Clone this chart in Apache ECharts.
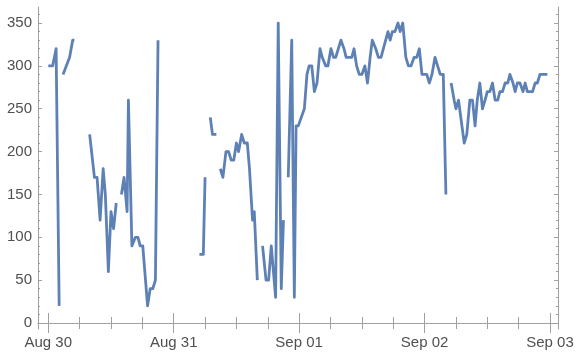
<!DOCTYPE html>
<html>
<head>
<meta charset="utf-8">
<style>
  html, body { margin: 0; padding: 0; background: #ffffff; }
  #chart { width: 587px; height: 357px; }
</style>
<script src="https://cdn.jsdelivr.net/npm/echarts@6/dist/echarts.min.js"></script>
</head>
<body>
<div id="chart"></div>
<script>
// Readings (month-day hour:minute); a null entry breaks the line.
const YEAR = 2016;
const times = [
  '08-30 00:00', '08-30 00:50', '08-30 01:30', '08-30 02:05', null,
  '08-30 02:50', '08-30 04:05', '08-30 04:40', '08-30 05:00', null,
  '08-30 07:55', '08-30 08:50', '08-30 09:20', '08-30 09:55', '08-30 10:30', '08-30 10:55',
  '08-30 11:30', '08-30 12:00', '08-30 12:30', '08-30 13:00', null,
  '08-30 14:00', '08-30 14:30', '08-30 15:05', '08-30 15:20', '08-30 16:00', '08-30 16:40',
  '08-30 17:10', '08-30 17:35', '08-30 18:05', '08-30 19:00', '08-30 19:30', '08-30 20:00',
  '08-30 20:30', '08-30 21:00', null,
  '08-31 04:55', '08-31 05:40', '08-31 06:00', null,
  '08-31 07:00', '08-31 07:25', '08-31 08:10', null,
  '08-31 08:55', '08-31 09:25', '08-31 10:00', '08-31 10:30', '08-31 11:00', '08-31 11:30',
  '08-31 12:00', '08-31 12:25', '08-31 13:00', '08-31 13:30', '08-31 14:05', '08-31 14:30',
  '08-31 15:05', '08-31 15:25', '08-31 16:00', null,
  '08-31 17:00', '08-31 17:40', '08-31 18:10', '08-31 18:40', '08-31 19:30', '08-31 20:00',
  '08-31 20:35', '08-31 21:00', null,
  '08-31 21:55', '08-31 22:35', '08-31 23:05', '08-31 23:25', '08-31 23:50', '09-01 01:00',
  '09-01 01:30', '09-01 01:55', '09-01 02:25', '09-01 02:55', '09-01 03:25', '09-01 04:00',
  '09-01 04:25', '09-01 05:05', '09-01 05:30', '09-01 06:05', '09-01 06:35', '09-01 07:00',
  '09-01 08:00', '09-01 08:35', '09-01 09:00', '09-01 09:30', '09-01 10:05', '09-01 10:30',
  '09-01 11:00', '09-01 11:30', '09-01 12:00', '09-01 12:35', '09-01 13:05', '09-01 13:35',
  '09-01 14:00', '09-01 14:40', '09-01 15:10', '09-01 15:40', '09-01 17:00', '09-01 17:25',
  '09-01 17:50', '09-01 18:20', '09-01 18:55', '09-01 19:20', '09-01 19:50', '09-01 20:25',
  '09-01 20:55', '09-01 21:25', '09-01 22:00', '09-01 22:30', '09-01 23:00', '09-01 23:30',
  '09-02 00:00', '09-02 00:25', '09-02 00:55', '09-02 01:25', '09-02 02:00', '09-02 02:30',
  '09-02 03:00', '09-02 03:35', '09-02 04:05', null,
  '09-02 05:05', '09-02 05:40', '09-02 06:00', '09-02 06:30', '09-02 07:35', '09-02 08:05',
  '09-02 08:40', '09-02 09:10', '09-02 09:40', '09-02 10:05', '09-02 10:35', '09-02 11:05',
  '09-02 11:35', '09-02 12:00', '09-02 12:30', '09-02 13:00', '09-02 13:30', '09-02 14:00',
  '09-02 14:25', '09-02 14:55', '09-02 15:25', '09-02 15:55', '09-02 16:20', '09-02 16:55',
  '09-02 17:20', '09-02 17:45', '09-02 18:15', '09-02 18:50', '09-02 19:15', '09-02 19:40',
  '09-02 20:10', '09-02 20:40', '09-02 21:10', '09-02 21:35', '09-02 22:05', '09-02 22:35',
  '09-02 23:30'
];
const values = [
  300, 300, 320, 20, null,
  290, 310, 330, 330, null,
  220, 170, 170, 120, 180, 150,
  60, 130, 110, 140, null,
  150, 170, 130, 260, 90, 100,
  100, 90, 90, 20, 40, 40,
  50, 330, null,
  80, 80, 170, null,
  240, 220, 220, null,
  180, 170, 200, 200, 190, 190,
  210, 200, 220, 210, 210, 180,
  120, 130, 50, null,
  90, 50, 50, 90, 30, 350,
  40, 120, null,
  170, 330, 30, 230, 230, 250,
  290, 300, 300, 270, 280, 320,
  310, 300, 300, 320, 310, 310,
  330, 320, 310, 310, 310, 320,
  300, 290, 290, 300, 280, 310,
  330, 320, 310, 310, 340, 330,
  340, 340, 350, 340, 350, 310,
  300, 300, 310, 310, 320, 290,
  290, 290, 280, 290, 310, 300,
  290, 290, 150, null,
  280, 260, 250, 260, 210, 220,
  260, 260, 230, 260, 280, 250,
  260, 270, 270, 280, 260, 260,
  270, 270, 280, 280, 290, 280,
  270, 280, 280, 270, 280, 270,
  270, 270, 280, 280, 290, 290,
  290
];
const dayTicks = ['08-30 00:00', '08-31 00:00', '09-01 00:00', '09-02 00:00', '09-03 00:00'];
const yTicks = [0, 50, 100, 150, 200, 250, 300, 350];
const MONTHS = ['Jan', 'Feb', 'Mar', 'Apr', 'May', 'Jun', 'Jul', 'Aug', 'Sep', 'Oct', 'Nov', 'Dec'];

function ts(s) {
  const m = s.match(/(\d+)-(\d+) (\d+):(\d+)/);
  return new Date(YEAR, +m[1] - 1, +m[2], +m[3], +m[4]).getTime();
}

const seriesData = times.map((t, i) =>
  (t === null || values[i] === null) ? ['-', '-'] : [ts(t), values[i]]
);

const HOUR = 3600 * 1000;
const dayVals = dayTicks.map(ts);
const quarterVals = [];
for (let t = dayVals[0] - 6 * HOUR; t <= dayVals[dayVals.length - 1]; t += 6 * HOUR) {
  if (dayVals.indexOf(t) < 0) quarterVals.push(t);
}
const yMinor = [];
for (let v = 0; v <= 360; v += 10) if (v % 50 !== 0) yMinor.push(v);

const xMin = ts('08-29 22:02');
const xMax = ts('09-03 01:32');
const yMin = -7, yMax = 368.7;

const FRAME = '#a0a0a0';
const LABEL = '#505050';
const FONT = 'Liberation Sans, Arial, sans-serif';

function xAxisDef(position, tickVals, len, withLine, withLabel) {
  return {
    type: 'value', gridIndex: 0, position: position, min: xMin, max: xMax,
    axisLine: { show: withLine, lineStyle: { color: FRAME, width: 1 } },
    axisTick: { show: true, inside: true, length: len, customValues: tickVals,
                lineStyle: { color: FRAME, width: 1 } },
    axisLabel: withLabel ? {
      show: true, customValues: tickVals, color: LABEL, fontSize: 15,
      fontFamily: FONT, margin: 6,
      formatter: function (v) {
        const d = new Date(v);
        return MONTHS[d.getMonth()] + ' ' + String(d.getDate()).padStart(2, '0');
      }
    } : { show: false },
    splitLine: { show: false }, minorTick: { show: false }
  };
}
function yAxisDef(position, tickVals, len, withLine, withLabel) {
  return {
    type: 'value', gridIndex: 0, position: position, min: yMin, max: yMax,
    axisLine: { show: withLine, lineStyle: { color: FRAME, width: 1 } },
    axisTick: { show: true, inside: true, length: len, customValues: tickVals,
                lineStyle: { color: FRAME, width: 1 } },
    axisLabel: withLabel ? {
      show: true, customValues: tickVals, color: LABEL, fontSize: 15,
      fontFamily: FONT, margin: 6
    } : { show: false },
    splitLine: { show: false }
  };
}

const chart = echarts.init(document.getElementById('chart'), null, { renderer: 'canvas' });
chart.setOption({
  animation: false,
  backgroundColor: '#ffffff',
  grid: { left: 38, right: 29, top: 7, bottom: 28, containLabel: false },
  xAxis: [
    xAxisDef('bottom', dayVals, 10, true, true),
    xAxisDef('bottom', quarterVals, 6, false, false),
    xAxisDef('top', dayVals, 10, true, false),
    xAxisDef('top', quarterVals, 6, false, false)
  ],
  yAxis: [
    yAxisDef('left', yTicks, 4, true, true),
    yAxisDef('left', yMinor, 2, false, false),
    yAxisDef('right', yTicks, 4, true, false),
    yAxisDef('right', yMinor, 2, false, false)
  ],
  series: [{
    type: 'line',
    xAxisIndex: 0, yAxisIndex: 0,
    data: seriesData,
    showSymbol: false,
    connectNulls: false,
    lineStyle: { color: '#5e81b5', width: 2.8, join: 'round' },
    itemStyle: { color: '#5e81b5' }
  }]
});
</script>
</body>
</html>
